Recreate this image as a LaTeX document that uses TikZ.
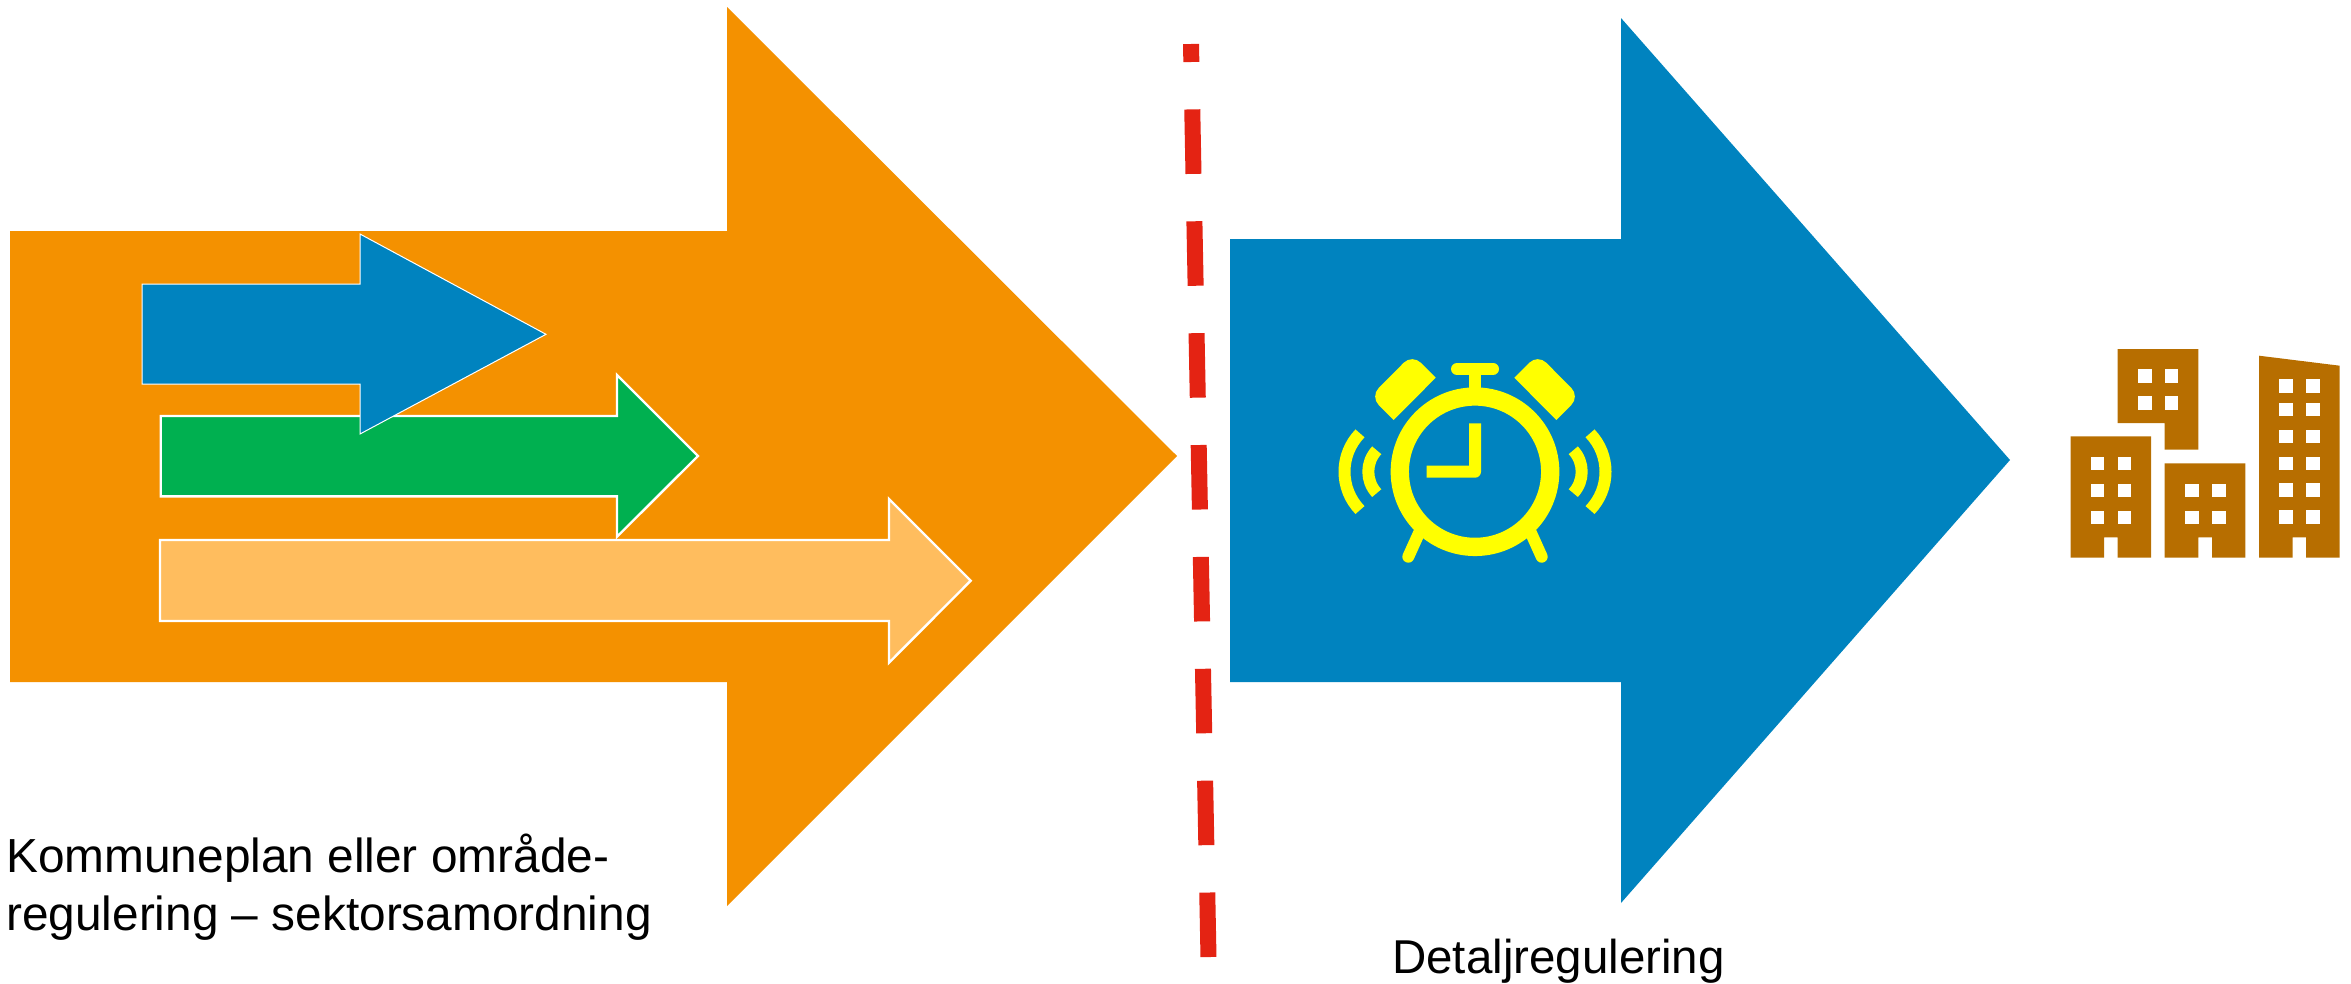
\documentclass[tikz,border=0pt]{standalone}
\usepackage{fontspec}
\setmainfont{Liberation Sans}
\definecolor{orangemain}{HTML}{F49100}
\definecolor{bluemain}{HTML}{0083BF}
\definecolor{greenmain}{HTML}{00B050}
\definecolor{orangelight}{HTML}{FFBD5E}
\definecolor{redline}{HTML}{E42313}
\definecolor{alarm}{HTML}{FFFF00}
\definecolor{brownb}{HTML}{B76E00}
\tikzset{
  inner/.style={draw=white,line width=2.4pt,miter limit=10},
  innerthin/.style={draw=white,line width=1pt,miter limit=10},
  labelleft/.style={font=\fontsize{47.8}{60}\selectfont,inner sep=0pt},
  labelright/.style={font=\fontsize{47.5}{60}\selectfont,inner sep=0pt},
  ring/.style={draw=alarm,line width=12pt},
  wave/.style={draw=alarm,line width=12pt},
  win/.style={fill=white},
}
\newcommand{\winat}[2]{\fill[win] (#1,#2) rectangle ++(13.5,13.5);}
\begin{document}
\begin{tikzpicture}[x=1pt,y=1pt,yscale=-1]
\useasboundingbox (0,0) rectangle (2351,983);
% big arrows
\fill[orangemain] (10,231) -- (727,231) -- (727,7) -- (1177,456) -- (727,906) -- (727,682) -- (10,682) -- cycle;
\fill[bluemain] (1230,239) -- (1621,239) -- (1621,18) -- (2010,460) -- (1621,903) -- (1621,682) -- (1230,682) -- cycle;
% inner arrows
\path[inner,fill=orangelight] (160,540) -- (889,540) -- (889,499) -- (970.7,580.7) -- (889,662.7) -- (889,621) -- (160,621) -- cycle;
\path[inner,fill=greenmain] (160.7,416) -- (617,416) -- (617,375) -- (698,456) -- (617,536.7) -- (617,496.3) -- (160.7,496.3) -- cycle;
\path[innerthin,fill=bluemain] (142,284) -- (360,284) -- (360,234) -- (546,334.3) -- (360,434) -- (360,384) -- (142,384) -- cycle;
% red dashed divider
\draw[redline,line width=16pt,dash pattern=on 64.5pt off 47.4pt,dash phase=46.5pt] (1191,44) -- (1208.5,958);
% alarm clock
\draw[ring,line width=18.3pt] (1475,471.7) circle[radius=75.2];
\draw[ring,line cap=round] (1457,369) -- (1493,369);
\draw[ring] (1475,369) -- (1475,392);
\fill[alarm] (1469,423.3) -- (1481,423.3) [rounded corners=6pt] -- (1481,477.7) [sharp corners] -- (1426.7,477.7) -- (1426.7,465.7) -- (1469,465.7) -- cycle;
\fill[alarm] (1435.7,377.7) -- (1393.7,420) [rounded corners=12pt] -- (1370.2,396.5) -- (1412.2,354.2) [sharp corners] -- cycle;
\fill[alarm] (1514.3,377.7) -- (1556.3,420) [rounded corners=12pt] -- (1579.8,396.5) -- (1537.8,354.2) [sharp corners] -- cycle;
\draw[ring,line cap=round] (1419,533) -- (1408.3,556.7);
\draw[ring,line cap=round] (1531,533) -- (1541.7,556.7);
\draw[wave] (1399.7,471.7) ++(136:55.2) arc[start angle=136,end angle=224,radius=55.2];
\draw[wave] (1399.7,471.7) ++(137:31.4) arc[start angle=137,end angle=223,radius=31.4];
\draw[wave] (1550.3,471.7) ++(-44:55.2) arc[start angle=-44,end angle=44,radius=55.2];
\draw[wave] (1550.3,471.7) ++(-43:31.4) arc[start angle=-43,end angle=43,radius=31.4];
% buildings
\fill[brownb] (2070.7,436.3) -- (2151,436.3) -- (2151,557.7) -- (2117.7,557.7) -- (2117.7,537.3) -- (2104,537.3) -- (2104,557.7) -- (2070.7,557.7) -- cycle;
\fill[brownb] (2117.7,349) -- (2198.3,349) -- (2198.3,449.7) -- (2164.7,449.7) -- (2164.7,423) -- (2117.7,423) -- cycle;
\fill[brownb] (2164.7,463.3) -- (2245.3,463.3) -- (2245.3,557.7) -- (2212,557.7) -- (2212,537.3) -- (2198.3,537.3) -- (2198.3,557.7) -- (2164.7,557.7) -- cycle;
\fill[brownb] (2259,355.7) -- (2339.7,365.7) -- (2339.7,557.7) -- (2306,557.7) -- (2306,537.3) -- (2292.7,537.3) -- (2292.7,557.7) -- (2259,557.7) -- cycle;
\foreach \px in {2090.7,2117.7}{\foreach \py in {456.7,483.5,510.5}{\winat{\px}{\py}}}
\foreach \px in {2138,2164.7}{\foreach \py in {369,396}{\winat{\px}{\py}}}
\foreach \px in {2185,2212}{\foreach \py in {483.5,510.5}{\winat{\px}{\py}}}
\foreach \px in {2279,2306}{\foreach \py in {379.3,402.7,429.7,456.7,483.3,510.3}{\winat{\px}{\py}}}
% labels
\node[labelleft,anchor=base west] (komm1) at (6,872.7) {Kommuneplan eller område-};
\node[labelleft,anchor=base west] (komm2) at (6,930) {regulering – sektorsamordning};
\node[labelright,anchor=base west] (detalj) at (1392,973) {Detaljregulering};
\end{tikzpicture}
\end{document}
